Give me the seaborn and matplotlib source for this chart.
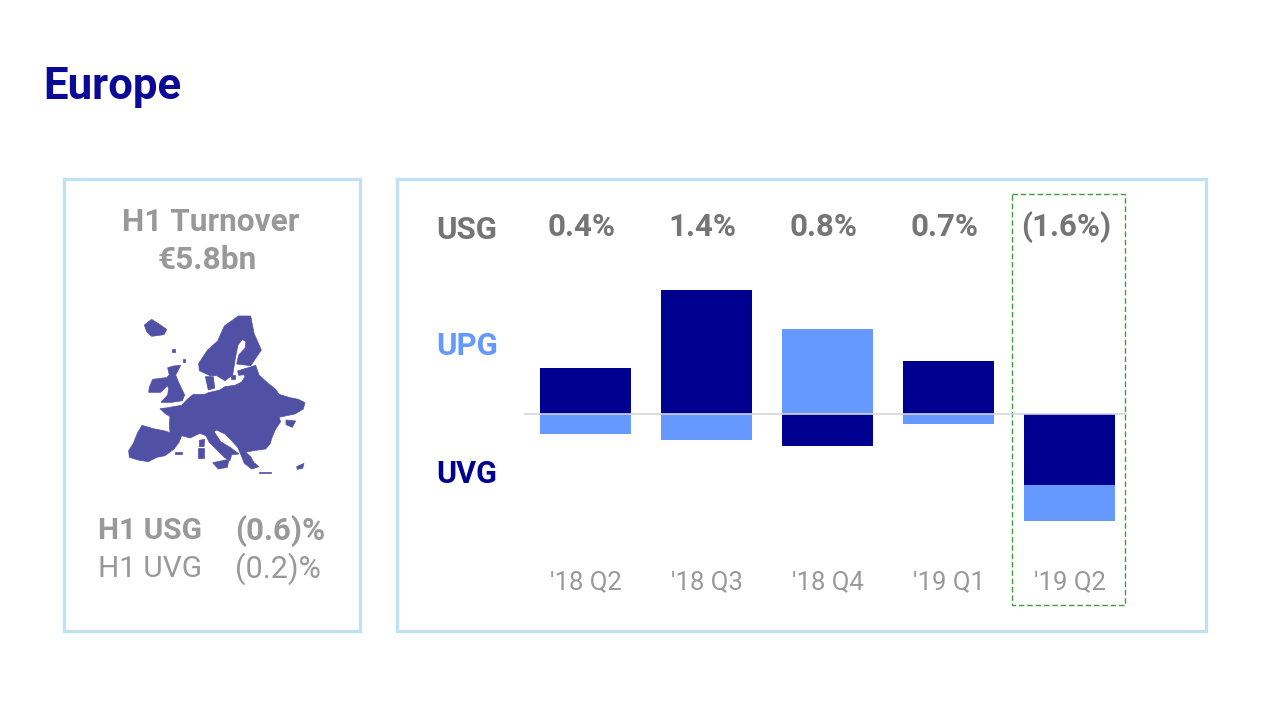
import numpy as np
import pandas as pd
import matplotlib
matplotlib.use('Agg')
import matplotlib.pyplot as plt
from matplotlib.patches import Polygon, Rectangle
import seaborn as sns

# Chart data
quarters = ["'18 Q2", "'18 Q3", "'18 Q4", "'19 Q1", "'19 Q2"]
usg_labels = ['0.4%', '1.4%', '0.8%', '0.7%', '(1.6%)']
uvg_values = [0.70, 1.90, -0.50, 0.81, -1.10]
upg_values = [-0.31, -0.41, 1.30, -0.16, -0.55]

# Colours
DARK = '#000090'
LIGHT = '#6699ff'
GREY = '#999999'
ROW_GREY = '#757575'
BORDER = '#bfe0f5'
MAP = '#5050a5'

sns.set_theme(style='white')
plt.rcParams['font.family'] = ['Roboto', 'DejaVu Sans']

fig = plt.figure(figsize=(12.8, 7.2), dpi=100)

# Overlay in pixel coordinates for the slide furniture
bg = fig.add_axes([0, 0, 1, 1])
bg.set_xlim(0, 1280)
bg.set_ylim(720, 0)
bg.axis('off')

bg.text(43, 87, 'Europe', color='#0a0a96', fontsize=31.5, fontweight='bold', va='center')

bg.add_patch(Rectangle((64, 179), 296, 452, fill=False, ec=BORDER, lw=2.4))
bg.add_patch(Rectangle((397, 179), 809, 452, fill=False, ec=BORDER, lw=2.4))
bg.add_patch(Rectangle((1012, 194), 113, 411, fill=False, ec='#3aa03a', lw=1, ls=(0, (4, 2))))

bg.text(211, 222, 'H1 Turnover', color=GREY, fontsize=22.8, fontweight='bold', ha='center', va='center')
bg.text(207, 260, '€5.8bn', color=GREY, fontsize=22.8, fontweight='bold', ha='center', va='center')
bg.text(98, 531, 'H1 USG', color=GREY, fontsize=21.5, fontweight='bold', va='center')
bg.text(235, 531, '(0.6)%', color=GREY, fontsize=22.5, fontweight='bold', va='center')
bg.text(98, 569, 'H1 UVG', color=GREY, fontsize=21.5, va='center')
bg.text(235, 569, '(0.2)%', color=GREY, fontsize=22, va='center')

bg.text(436, 230, 'USG', color=ROW_GREY, fontsize=22.5, fontweight='bold', va='center')
bg.text(436, 346, 'UPG', color=LIGHT, fontsize=22.5, fontweight='bold', va='center')
bg.text(436, 474, 'UVG', color=DARK, fontsize=22, fontweight='bold', va='center')

# Rough outline of the map picture
map_shapes = [
    [(56, 452), (70, 430), (82, 400), (96, 376), (130, 386), (165, 393), (180, 398), (178, 375),
     (180, 350), (165, 340), (150, 326), (175, 323), (190, 320), (215, 316), (232, 298), (250, 283),
     (285, 283), (295, 278), (330, 270), (345, 260), (375, 256), (395, 246), (405, 230), (393, 210),
     (415, 203), (437, 196), (447, 225), (472, 248), (497, 268), (507, 283), (540, 293), (565, 298),
     (585, 308), (580, 327), (555, 342), (530, 347), (507, 352), (512, 365), (497, 387), (487, 410),
     (480, 432), (467, 447), (430, 452), (407, 457), (422, 470), (432, 488), (447, 500), (425, 507),
     (403, 490), (393, 465), (383, 442), (365, 422), (345, 402), (320, 390), (312, 395), (332, 425),
     (362, 443), (387, 462), (365, 464), (360, 482), (343, 472), (323, 452), (298, 427), (288, 407),
     (270, 400), (240, 414), (215, 407), (207, 427), (192, 447), (165, 467), (140, 472), (115, 485),
     (85, 480), (58, 472)],
    [(266, 190), (293, 150), (323, 123), (343, 78), (385, 48), (422, 48), (432, 100), (454, 150),
     (422, 197), (380, 192), (386, 165), (405, 145), (408, 125), (397, 118), (384, 135), (376, 175),
     (368, 225), (345, 242), (320, 227), (300, 227), (268, 212)],
    [(173, 203), (190, 198), (212, 196), (197, 225), (207, 250), (224, 285), (217, 302), (185, 307),
     (153, 307), (173, 285), (176, 265), (163, 240), (178, 225)],
    [(118, 262), (128, 238), (167, 233), (170, 260), (152, 277), (116, 277)],
    [(103, 75), (125, 58), (147, 72), (170, 88), (162, 104), (125, 109), (110, 95)],
    [(286, 230), (310, 230), (314, 264), (295, 270)],
    [(308, 488), (357, 478), (352, 502), (325, 507)],
    [(528, 360), (557, 363), (547, 382), (528, 374)],
    [(263, 445), (282, 445), (282, 474), (263, 474)],
    [(268, 421), (284, 418), (282, 440), (268, 440)],
    [(195, 455), (215, 455), (215, 461), (195, 461)],
    [(448, 515), (482, 515), (482, 520), (448, 520)],
    [(560, 500), (582, 490), (578, 505), (562, 508)],
    [(186, 148), (195, 148), (195, 156), (186, 156)],
    [(220, 178), (226, 178), (226, 186), (220, 186)],
    [(363, 225), (376, 225), (376, 237), (363, 237)],
    [(383, 213), (407, 206), (402, 224), (386, 226)],
]
for shape in map_shapes:
    pts = np.array(shape, dtype=float) / 3 + [110, 300]
    bg.add_patch(Polygon(pts, closed=True, fc=MAP, ec=MAP, lw=0.5))

# Stacked bars, positive and negative parts share the zero line
df = pd.DataFrame({'quarter': quarters, 'uvg': uvg_values, 'upg': upg_values})
same_side = np.sign(df['uvg']) == np.sign(df['upg'])
upg_bottom = np.where(same_side, df['uvg'], 0)

ax = fig.add_axes([524 / 1280, 1 - 565 / 720, (1127 - 524) / 1280, (565 - 194) / 720])
ax.patch.set_alpha(0)
sns.barplot(data=df, x='quarter', y='uvg', color=DARK, width=0.752, saturation=1, ax=ax, linewidth=0, zorder=2)
sns.barplot(data=df, x='quarter', y='upg', color=LIGHT, width=0.752, saturation=1, ax=ax, linewidth=0,
            bottom=upg_bottom, zorder=2)
ax.axhline(0, color='#d4d4dc', lw=1.2, zorder=3)

ax.set_xlim(-0.508, 4.475)
ax.set_ylim(-2.33, 3.377)
ax.set_xlabel('')
ax.set_ylabel('')
ax.set_yticks([])
ax.tick_params(axis='x', length=0, pad=4, labelsize=18.5, labelcolor=GREY)
sns.despine(ax=ax, left=True, bottom=True)

for i, label in enumerate(usg_labels):
    ax.text(i - 0.03, 2.87, label, color=ROW_GREY, fontsize=22.5, fontweight='bold', ha='center', va='center')

fig.savefig('out.png', dpi=100)
